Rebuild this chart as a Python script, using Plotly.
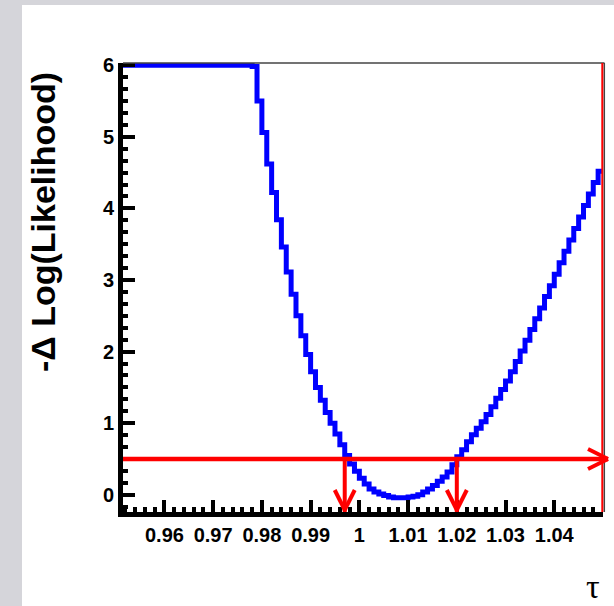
import plotly.graph_objects as go

# ---- data ----
bin_start = 0.95
bin_width = 0.001
nll_values = [
    6.0, 6.0, 6.0, 6.0, 6.0, 6.0, 6.0, 6.0, 6.0, 6.0,
    6.0, 6.0, 6.0, 6.0, 6.0, 6.0, 6.0, 6.0, 6.0, 6.0,
    6.0, 6.0, 6.0, 6.0, 6.0, 6.0, 6.0, 6.0, 5.98, 5.50,
    5.06, 4.62, 4.22, 3.84, 3.46, 3.11, 2.80, 2.50, 2.22, 1.96,
    1.72, 1.50, 1.32, 1.15, 1.00, 0.85, 0.70, 0.55, 0.43, 0.33,
    0.23, 0.15, 0.08, 0.04, 0.01, -0.01, -0.03, -0.04, -0.04, -0.04,
    -0.03, -0.02, 0.00, 0.04, 0.08, 0.13, 0.19, 0.25, 0.32, 0.42,
    0.53, 0.63, 0.74, 0.84, 0.93, 1.02, 1.12, 1.23, 1.35, 1.47,
    1.59, 1.72, 1.86, 2.01, 2.16, 2.31, 2.46, 2.61, 2.77, 2.92,
    3.08, 3.24, 3.40, 3.56, 3.72, 3.88, 4.04, 4.20, 4.36, 4.52,
]
interval_level = 0.5
interval_bounds = [0.997, 1.020]

x_tick_vals = [0.96, 0.97, 0.98, 0.99, 1.00, 1.01, 1.02, 1.03, 1.04]
x_tick_text = ["0.96", "0.97", "0.98", "0.99", "1", "1.01", "1.02", "1.03", "1.04"]
y_tick_vals = [0, 1, 2, 3, 4, 5, 6]

x_range = [0.9515, 1.05]
y_range = [-0.24, 6.03]

# ---- geometry ----
W, H = 614, 606
L, R, T, B = 123, 11, 63, 94
PW, PH = W - L - R, H - T - B


def px_x(p):
    return (p - L) / PW


def px_y(p):
    return (H - B - p) / PH


edges = [bin_start + bin_width * i for i in range(len(nll_values) + 1)]
yvals = nll_values + [nll_values[-1]]

fig = go.Figure()
fig.add_trace(go.Scatter(
    x=edges, y=yvals, mode="lines", line=dict(color="#0000ff", width=5, shape="hv"),
    hoverinfo="skip", showlegend=False,
))

red = "#ff0000"
shapes = []
# background grey strips
shapes.append(dict(type="rect", xref="paper", yref="paper", x0=px_x(-5), x1=px_x(22),
                   y0=px_y(H + 5), y1=px_y(-5), fillcolor="#d5d5da", line_width=0, layer="below"))
shapes.append(dict(type="rect", xref="paper", yref="paper", x0=px_x(-5), x1=px_x(W + 5),
                   y0=px_y(5), y1=px_y(-5), fillcolor="#d5d5da", line_width=0, layer="below"))
# frame top/right
shapes.append(dict(type="line", xref="paper", yref="paper", x0=0, x1=px_x(604.5), y0=1, y1=1,
                   line=dict(color="#444444", width=1.5)))
shapes.append(dict(type="line", xref="paper", yref="paper", x0=px_x(604.3), x1=px_x(604.3), y0=0, y1=1,
                   line=dict(color="#444444", width=1.5)))
shapes.append(dict(type="line", xref="paper", yref="paper", x0=px_x(602.3), x1=px_x(602.3), y0=0, y1=1,
                   line=dict(color=red, width=2)))
# horizontal arrow at the interval level
tip = 1 + 5 / PW
shapes.append(dict(type="line", xref="x domain", yref="y", x0=0, x1=tip,
                   y0=interval_level, y1=interval_level, line=dict(color=red, width=4.5)))
for s in (1, -1):
    shapes.append(dict(type="line", xref="x domain", yref="y", x0=tip - 20 / PW, x1=tip,
                       ysizemode="pixel", yanchor=interval_level, y0=10 * s, y1=0,
                       line=dict(color=red, width=4)))
# vertical arrows at interval bounds
for xb in interval_bounds:
    shapes.append(dict(type="line", xref="x", yref="y", x0=xb, x1=xb,
                       y0=interval_level, y1=y_range[0], line=dict(color=red, width=4)))
    for s in (1, -1):
        shapes.append(dict(type="line", xref="x", yref="y",
                           xsizemode="pixel", xanchor=xb, x0=10 * s, x1=0,
                           ysizemode="pixel", yanchor=y_range[0], y0=22, y1=2,
                           line=dict(color=red, width=4)))

annotations = [
    dict(text="-Δ Log(Likelihood)", xref="paper", yref="paper", x=px_x(43), y=px_y(222),
         textangle=-90, showarrow=False, xanchor="center", yanchor="middle",
         font=dict(family="Liberation Sans", size=34, color="black", weight="bold")),
    dict(text="τ", xref="paper", yref="paper", x=px_x(593), y=px_y(586),
         showarrow=False, xanchor="center", yanchor="middle",
         font=dict(family="Liberation Serif", size=34, color="black")),
]

tickfont = dict(family="Liberation Sans", size=20, color="black", weight="bold")
fig.update_layout(
    width=W, height=H, margin=dict(l=L, r=R, t=T, b=B, pad=0),
    paper_bgcolor="white", plot_bgcolor="white",
    shapes=shapes, annotations=annotations,
    xaxis=dict(range=x_range, showgrid=False, zeroline=False,
               showline=True, linecolor="black", linewidth=5,
               tickmode="array", tickvals=x_tick_vals, ticktext=x_tick_text,
               ticks="inside", ticklen=12, tickwidth=4, tickcolor="black",
               ticklabelstandoff=1,
               minor=dict(ticks="inside", dtick=0.002, tick0=0.96, ticklen=5, tickwidth=3.5, tickcolor="black"),
               tickfont=tickfont),
    yaxis=dict(range=y_range, showgrid=False, zeroline=False,
               showline=True, linecolor="black", linewidth=5,
               tickmode="array", tickvals=y_tick_vals,
               ticks="inside", ticklen=12, tickwidth=4, tickcolor="black",
               minor=dict(ticks="inside", dtick=1 / 6, tick0=0, ticklen=5, tickwidth=3.5, tickcolor="black"),
               tickfont=tickfont),
)

fig.write_html("out.html")
